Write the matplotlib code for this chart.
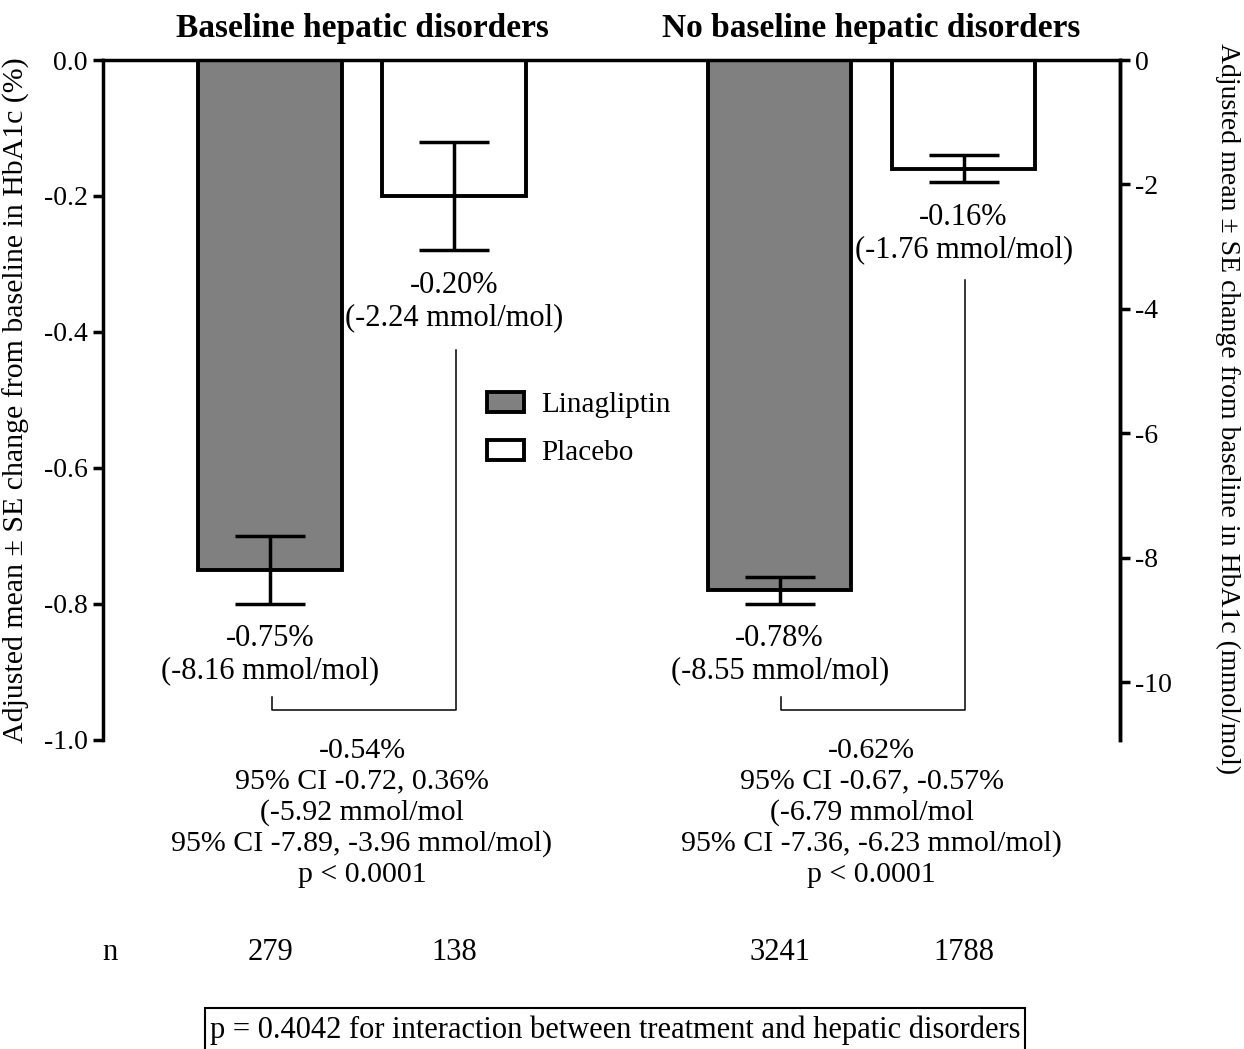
import matplotlib
matplotlib.use("Agg")
import matplotlib.pyplot as plt
from matplotlib.patches import Rectangle

plt.rcParams["font.family"] = ["Liberation Serif", "DejaVu Serif"]

# data
groups = ["Baseline hepatic disorders", "No baseline hepatic disorders"]
treatments = ["Linagliptin", "Placebo"]
mean_pct = [[-0.75, -0.20], [-0.78, -0.16]]
se_pct = [[0.05, 0.08], [0.02, 0.02]]
mean_mmol = [[-8.16, -2.24], [-8.55, -1.76]]
n_counts = [[279, 138], [3241, 1788]]
diff_text = [
    "-0.54%\n95% CI -0.72, 0.36%\n(-5.92 mmol/mol\n95% CI -7.89, -3.96 mmol/mol)\np < 0.0001",
    "-0.62%\n95% CI -0.67, -0.57%\n(-6.79 mmol/mol\n95% CI -7.36, -6.23 mmol/mol)\np < 0.0001",
]
interaction_text = "p = 0.4042 for interaction between treatment and hepatic disorders"
left_ticks = [0.0, -0.2, -0.4, -0.6, -0.8, -1.0]
right_ticks = [0, -2, -4, -6, -8, -10]
MMOL_PER_PCT = 10.929

colors = ["#808080", "white"]
group_centers = [0.5, 3.27]
offsets = [-0.5, 0.5]
bar_width = 0.78
bracket_tops = [-0.426, -0.324]
FS = 22


def main():
    fig = plt.figure(figsize=(12.44, 10.49), dpi=100, facecolor="white")
    ax = fig.add_axes([0.0828, 0.2946, 0.8175, 0.6482])

    handles = []
    for g, gc in enumerate(group_centers):
        for t, off in enumerate(offsets):
            x = gc + off
            b = ax.bar(x, mean_pct[g][t], width=bar_width, color=colors[t],
                       edgecolor="black", linewidth=2.8, zorder=2)
            ax.errorbar(x, mean_pct[g][t], yerr=se_pct[g][t], fmt="none",
                        ecolor="black", elinewidth=2.5, capsize=25, capthick=2.5, zorder=3)
            if g == 0:
                handles.append(b)
            ax.text(x, mean_pct[g][t] - se_pct[g][t] - 0.03,
                    "%.2f%%\n(%.2f mmol/mol)" % (mean_pct[g][t], mean_mmol[g][t]),
                    ha="center", va="top", fontsize=FS, linespacing=1.15)
            ax.text(x, -1.313, str(n_counts[g][t]), ha="center", va="center",
                    fontsize=FS, clip_on=False)

        # bracket between the two bars
        xl, xr = gc + offsets[0] + 0.01, gc + offsets[1] + 0.01
        ax.plot([xl, xl, xr, xr], [-0.937, -0.956, -0.956, bracket_tops[g]],
                color="black", lw=1.1, clip_on=False, zorder=1)
        ax.text(gc, -0.997, diff_text[g], ha="center", va="top", fontsize=21.5,
                linespacing=1.22, clip_on=False)
        ax.text(gc, 1.046, groups[g], ha="center", va="center", fontsize=24,
                fontweight="bold", transform=ax.get_xaxis_transform())

    ax.text(-0.87, -1.313, "n", ha="center", va="center", fontsize=FS, clip_on=False)

    ax.set_xlim(-0.908, 4.62)
    ax.set_ylim(-1.0, 0.0)
    ax.set_xticks([])
    ax.set_yticks(left_ticks)
    ax.set_yticklabels(["%.1f" % v for v in left_ticks], fontsize=20)
    ax.tick_params(axis="y", direction="out", length=7, width=2.5, pad=4)
    ax.spines["bottom"].set_visible(False)
    for s in ["left", "top", "right"]:
        ax.spines[s].set_linewidth(2.5)
    ax.set_ylabel("Adjusted mean \u00b1 SE change from baseline in HbA1c (%)",
                  fontsize=21.5, labelpad=10)

    ax2 = ax.twinx()
    ax2.set_ylim(-1.0 * MMOL_PER_PCT, 0.0)
    ax2.set_yticks(right_ticks)
    ax2.set_yticklabels([str(v) for v in right_ticks], fontsize=20)
    ax2.tick_params(axis="y", direction="out", length=7, width=2.5, pad=4)
    ax2.spines["bottom"].set_visible(False)
    ax2.spines["left"].set_visible(False)
    ax2.spines["top"].set_visible(False)
    ax2.spines["right"].set_linewidth(2.5)
    ax2.set_ylabel("Adjusted mean \u00b1 SE change from baseline in HbA1c (mmol/mol)",
                   fontsize=20, rotation=-90, labelpad=50)
    ax2.yaxis.set_label_coords(1.118, 0.487)

    ax.legend(handles, treatments, loc="center left", bbox_to_anchor=(0.352, 0.457),
              frameon=False, fontsize=21, handlelength=1.25, handleheight=0.65,
              labelspacing=0.75, handletextpad=0.6)

    fig.add_artist(Rectangle((205 / 1244, -0.02), 820 / 1244, 41 / 1049 + 0.02,
                             transform=fig.transFigure, fill=False,
                             edgecolor="black", linewidth=1.5))
    fig.text(210 / 1244, 19 / 1049, interaction_text, ha="left", va="center", fontsize=FS)

    fig.savefig("out.png", dpi=100, facecolor="white")


if __name__ == "__main__":
    main()
